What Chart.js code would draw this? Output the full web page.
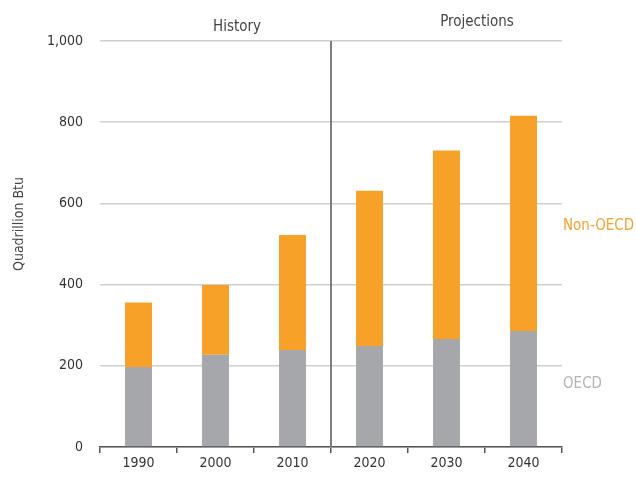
<!DOCTYPE html>
<html>
<head>
<meta charset="utf-8">
<script src="https://cdn.jsdelivr.net/npm/chart.js@4.4.1/dist/chart.umd.min.js"></script>
<style>
  html, body { margin: 0; padding: 0; background: #fff; }
  #wrap { width: 637px; height: 477px; }
</style>
</head>
<body>
<div id="wrap"><canvas id="energyChart"></canvas></div>
<script>
// Data
const years = ['1990', '2000', '2010', '2020', '2030', '2040'];
const oecd = [197, 227, 239, 249, 266, 286];
const nonOecd = [159, 172, 283, 382, 464, 530];
const yTicks = [0, 200, 400, 600, 800, 1000];

const FONT = '"DejaVu Sans Condensed", "DejaVu Sans", sans-serif';
const ORANGE = '#f7a129';
const GRAY = '#a6a7aa';

// Separator line, period headers, axis title and series labels
const annotations = {
    id: 'annotations',
    afterDatasetsDraw(chart) {
        const { ctx, chartArea, scales } = chart;
        const xSep = (scales.x.getPixelForValue(2) + scales.x.getPixelForValue(3)) / 2;
        ctx.save();
        ctx.strokeStyle = '#7d7d7d';
        ctx.lineWidth = 2;
        ctx.beginPath();
        ctx.moveTo(xSep, chartArea.top);
        ctx.lineTo(xSep, chartArea.bottom);
        ctx.stroke();

        ctx.font = '15px ' + FONT;
        ctx.fillStyle = '#444';
        ctx.textAlign = 'center';
        ctx.textBaseline = 'middle';
        ctx.fillText('History', 237, 27);
        ctx.fillText('Projections', 477, 22);

        ctx.textAlign = 'left';
        ctx.fillStyle = ORANGE;
        ctx.fillText('Non-OECD', 563, 226);
        ctx.fillStyle = '#b3b3b3';
        ctx.fillText('OECD', 563, 384);

        ctx.translate(19, 224);
        ctx.rotate(-Math.PI / 2);
        ctx.textAlign = 'center';
        ctx.fillStyle = '#444';
        ctx.font = '14px ' + FONT;
        ctx.fillText('Quadrillion Btu', 0, 0);
        ctx.restore();
    },
};

const ctx = document.getElementById('energyChart').getContext('2d');

// eslint-disable-next-line no-new
new Chart(ctx, {
    type: 'bar',
    data: {
        labels: years,
        datasets: [
            {
                label: 'OECD',
                data: oecd,
                backgroundColor: GRAY,
                barPercentage: 0.7,
                categoryPercentage: 0.5,
            },
            {
                label: 'Non-OECD',
                data: nonOecd,
                backgroundColor: ORANGE,
                barPercentage: 0.7,
                categoryPercentage: 0.5,
            },
        ],
    },
    options: {
        responsive: true,
        maintainAspectRatio: false,
        animation: false,
        layout: {
            padding: { top: 41, right: 75, left: 0, bottom: 0 },
        },
        plugins: {
            legend: { display: false },
            tooltip: { enabled: false },
        },
        scales: {
            x: {
                stacked: true,
                afterFit: (scale) => { scale.height = 30; },
                grid: {
                    drawOnChartArea: false,
                    drawTicks: true,
                    tickLength: 6,
                    color: '#555',
                    lineWidth: 1.5,
                },
                border: { display: true, color: '#555', width: 1.5 },
                ticks: {
                    color: '#333',
                    padding: 2,
                    font: { family: FONT, size: 14 },
                },
            },
            y: {
                stacked: true,
                min: 0,
                max: 1000,
                afterFit: (scale) => { scale.width = 100; },
                afterBuildTicks: (scale) => {
                    scale.ticks = yTicks.map((v) => ({ value: v }));
                },
                grid: {
                    color: '#d0d0d0',
                    lineWidth: 1.5,
                    drawTicks: false,
                },
                border: { display: false },
                ticks: {
                    color: '#333',
                    padding: 17,
                    font: { family: FONT, size: 14 },
                    callback: (v) => v.toLocaleString('en-US'),
                },
            },
        },
    },
    plugins: [annotations],
});
</script>
</body>
</html>
